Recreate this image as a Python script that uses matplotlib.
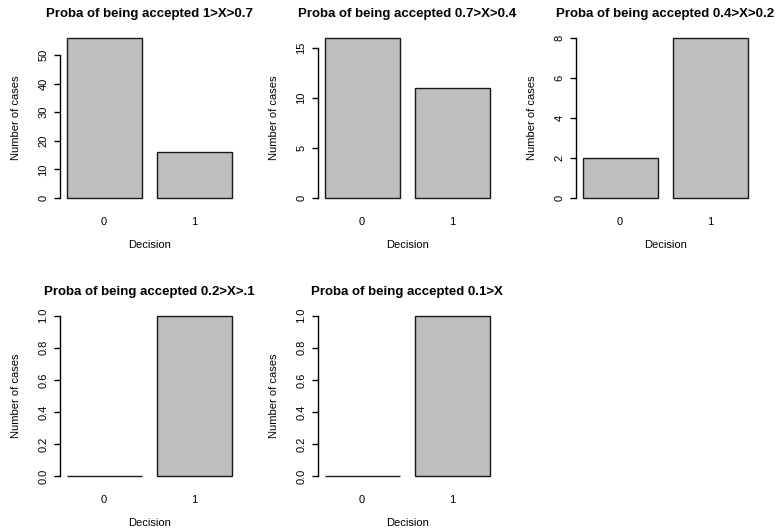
import matplotlib
matplotlib.use("Agg")
import matplotlib.pyplot as plt

plt.rcParams['font.family'] = ['Liberation Sans', 'DejaVu Sans']

titles = ["Proba of being accepted 1>X>0.7",
          "Proba of being accepted 0.7>X>0.4",
          "Proba of being accepted 0.4>X>0.2",
          "Proba of being accepted 0.2>X>.1",
          "Proba of being accepted 0.1>X"]
categories = ["0", "1"]
counts = [[56, 16], [16, 11], [2, 8], [0, 1], [0, 1]]
yticks = [[0, 10, 20, 30, 40, 50],
          [0, 5, 10, 15],
          [0, 2, 4, 6, 8],
          [0.0, 0.2, 0.4, 0.6, 0.8, 1.0],
          [0.0, 0.2, 0.4, 0.6, 0.8, 1.0]]
yticklabels = [["0", "10", "20", "30", "40", "50"],
               ["0", "5", "10", "15"],
               ["0", "2", "4", "6", "8"],
               ["0.0", "0.2", "0.4", "0.6", "0.8", "1.0"],
               ["0.0", "0.2", "0.4", "0.6", "0.8", "1.0"]]
xlabel = "Decision"
ylabel = "Number of cases"

W, H = 775, 531
fig = plt.figure(figsize=(W / 100, H / 100), dpi=100)

# plot regions in pixels (left, top) for each panel
col_left = [60.0, 318.0, 576.0]
row_top = [31.3, 309.3]
pw, ph = 178.3, 173.1

bar_x = [0.7, 1.9]
for i, (t, vals) in enumerate(zip(titles, counts)):
    r, c = divmod(i, 3)
    l = col_left[c]
    top = row_top[r]
    ax = fig.add_axes([l / W, 1 - (top + ph) / H, pw / W, ph / H])
    ax.bar(bar_x, vals, width=1.0, color="#BEBEBE", edgecolor="#1a1a1a", linewidth=1.0)
    ax.set_xlim(0.112, 2.488)
    ymax = max(vals)
    ax.set_ylim(-0.04 * ymax, 1.04 * ymax)
    for s in ["top", "right", "bottom"]:
        ax.spines[s].set_visible(False)
    ax.spines["left"].set_bounds(yticks[i][0], yticks[i][-1])
    ax.spines["left"].set_linewidth(1.0)
    ax.set_yticks(yticks[i])
    ax.set_yticklabels(yticklabels[i], rotation=90, va="center", fontsize=8)
    ax.tick_params(axis="y", direction="out", length=4.3, width=1.0, pad=4)
    ax.set_xticks(bar_x)
    ax.set_xticklabels(categories, fontsize=8)
    ax.tick_params(axis="x", length=0, pad=9)
    ax.set_xlabel(xlabel, fontsize=8, va="center")
    ax.xaxis.set_label_coords(0.5, -41.0 / ph)
    ax.set_ylabel(ylabel, fontsize=8, va="center")
    ax.yaxis.set_label_coords(-44.0 / pw, 0.5)
    ax.set_title(t, fontsize=9.55, fontweight="bold", y=1 + 17.5 / ph, va="center", pad=0)
    ax.patch.set_visible(False)

fig.savefig("out.png", dpi=100)
